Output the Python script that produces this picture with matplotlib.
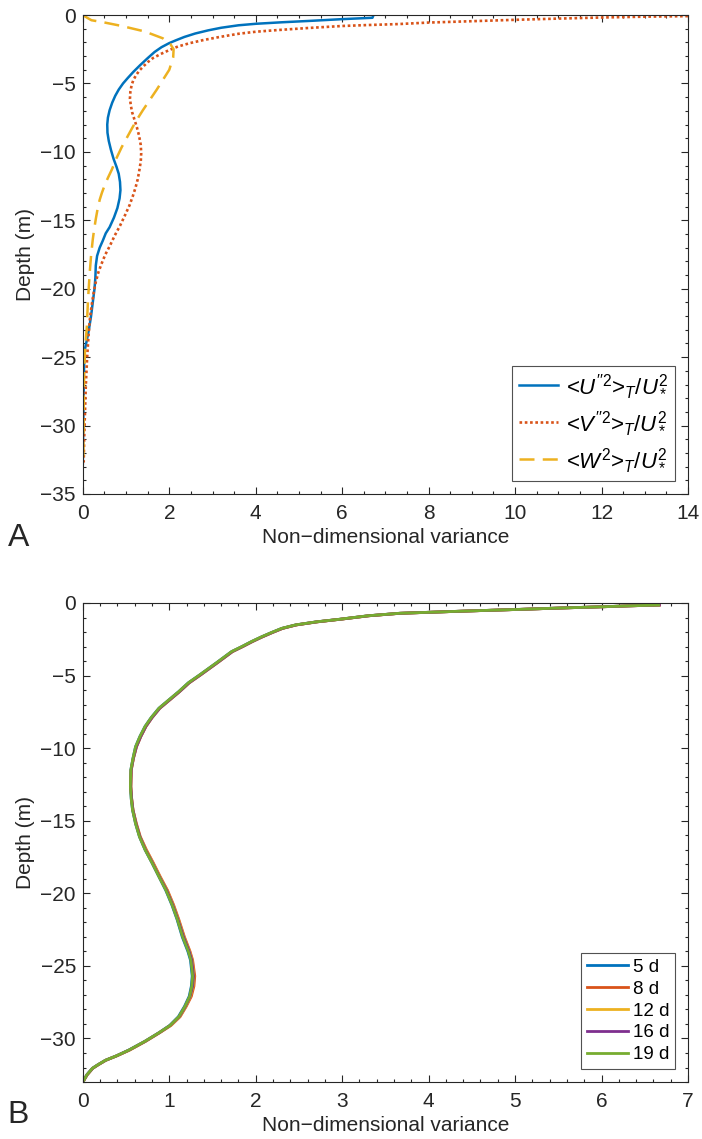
import matplotlib
matplotlib.use("Agg")
import matplotlib.pyplot as plt
from matplotlib.ticker import MultipleLocator

plt.rcParams["font.family"] = ["Liberation Sans", "DejaVu Sans"]
plt.rcParams["mathtext.fontset"] = "custom"
plt.rcParams["mathtext.rm"] = "Liberation Sans"
plt.rcParams["mathtext.it"] = "Liberation Sans:italic"
plt.rcParams["axes.unicode_minus"] = True

INK = "#262626"

# --- panel A: variance profiles (x = variance, depth in m) ---
u_var = [6.72, 6.70, 6.00, 5.30, 4.60, 4.00, 3.60, 3.20, 2.90, 2.60, 2.35, 2.15, 2.00,
         1.82, 1.66, 1.50, 1.33, 1.17, 1.04, 0.93, 0.83, 0.75, 0.68, 0.62, 0.58, 0.565,
         0.57, 0.60, 0.65, 0.71, 0.78, 0.83, 0.86, 0.87, 0.85, 0.80, 0.72, 0.62, 0.53,
         0.46, 0.39, 0.33, 0.30, 0.29, 0.27, 0.23, 0.19, 0.14, 0.09, 0.05, 0.03, 0.02,
         0.01, 0.00]
u_depth = [-0.05, -0.20, -0.30, -0.42, -0.53, -0.64, -0.75, -0.93, -1.12, -1.35, -1.60,
           -1.85, -2.05, -2.35, -2.70, -3.15, -3.65, -4.15, -4.60, -5.00, -5.45, -5.90,
           -6.40, -6.95, -7.50, -8.00, -8.60, -9.20, -9.85, -10.50, -11.10, -11.60,
           -12.20, -12.80, -13.40, -14.10, -14.80, -15.50, -15.95, -16.50, -17.00,
           -17.60, -18.30, -19.20, -20.00, -21.00, -22.00, -23.00, -23.80, -24.40,
           -25.50, -27.00, -30.00, -32.80]

v_var = [14.0, 13.0, 12.0, 11.0, 10.0, 9.0, 8.0, 7.3, 6.6, 6.0, 5.2, 4.5, 4.0, 3.6, 3.17,
         2.8, 2.48, 2.2, 2.0, 1.8, 1.62, 1.5, 1.4, 1.31, 1.23, 1.17, 1.13, 1.10, 1.09,
         1.11, 1.14, 1.19, 1.25, 1.30, 1.34, 1.35, 1.34, 1.31, 1.27, 1.22, 1.16, 1.08,
         0.98, 0.86, 0.74, 0.62, 0.52, 0.43, 0.36, 0.30, 0.25, 0.20, 0.16, 0.13, 0.10,
         0.07, 0.05, 0.03, 0.02]
v_depth = [-0.08, -0.12, -0.18, -0.26, -0.35, -0.45, -0.55, -0.66, -0.73, -0.80, -0.95,
           -1.10, -1.22, -1.37, -1.60, -1.82, -2.05, -2.30, -2.56, -2.85, -3.15, -3.45,
           -3.75, -4.05, -4.40, -4.75, -5.10, -5.60, -6.10, -6.60, -7.10, -7.60, -8.20,
           -8.80, -9.50, -10.10, -10.70, -11.30, -12.00, -12.60, -13.20, -13.90, -14.60,
           -15.40, -16.10, -16.90, -17.50, -18.20, -18.80, -19.50, -20.30, -21.30,
           -22.30, -23.50, -25.00, -27.00, -29.00, -31.00, -32.70]

w_var = [0.0, 0.10, 0.20, 0.46, 0.90, 1.43, 1.85, 2.02, 2.10, 2.09, 2.00, 1.86, 1.71,
         1.55, 1.39, 1.27, 1.16, 1.03, 0.90, 0.78, 0.67, 0.58, 0.51, 0.44, 0.39, 0.34,
         0.30, 0.26, 0.23, 0.19, 0.16, 0.12, 0.09, 0.05, 0.03, 0.02, 0.01]
w_depth = [0.0, -0.20, -0.38, -0.52, -0.80, -1.20, -1.70, -2.10, -2.50, -3.10, -4.00,
           -4.70, -5.45, -6.20, -6.95, -7.55, -8.15, -8.90, -9.65, -10.45, -11.30,
           -11.90, -12.40, -13.00, -13.50, -14.20, -14.90, -15.70, -16.40, -17.60,
           -18.80, -20.80, -22.90, -24.50, -26.10, -29.00, -32.70]

# --- panel B: <U'^2>/U*^2 after different run lengths ---
b_depth = [-0.14, -0.20, -0.25, -0.35, -0.44, -0.56, -0.71, -0.88, -1.12, -1.30, -1.51,
           -1.75, -2.04, -2.35, -2.66, -3.00, -3.35, -4.10, -4.96, -5.50, -6.10, -6.70,
           -7.25, -7.90, -8.50, -9.20, -9.90, -10.70, -11.50, -12.65, -13.50, -14.26,
           -15.20, -16.10, -17.00, -17.90, -18.85, -19.80, -20.80, -21.80, -23.00,
           -24.00, -24.60, -25.70, -26.40, -27.10, -27.80, -28.50, -29.10, -29.60,
           -30.20, -30.80, -31.20, -31.50, -31.80, -32.05, -32.50, -33.00]
b_5d = [6.66, 6.30, 6.06, 5.50, 5.05, 4.40, 3.66, 3.30, 2.97, 2.70, 2.46, 2.30, 2.18,
        2.06, 1.95, 1.84, 1.72, 1.55, 1.35, 1.22, 1.11, 0.99, 0.88, 0.79, 0.72, 0.66,
        0.61, 0.58, 0.555, 0.55, 0.56, 0.575, 0.61, 0.655, 0.72, 0.80, 0.88, 0.96, 1.03,
        1.09, 1.15, 1.215, 1.245, 1.265, 1.255, 1.23, 1.175, 1.105, 1.005, 0.88, 0.715,
        0.53, 0.385, 0.26, 0.175, 0.11, 0.045, 0.0]
b_8d = [6.67, 6.31, 6.07, 5.51, 5.06, 4.41, 3.67, 3.31, 2.98, 2.71, 2.47, 2.31, 2.19,
        2.07, 1.96, 1.85, 1.73, 1.56, 1.36, 1.23, 1.12, 1.00, 0.89, 0.80, 0.73, 0.67,
        0.62, 0.585, 0.56, 0.555, 0.565, 0.58, 0.62, 0.665, 0.735, 0.815, 0.895, 0.98,
        1.05, 1.11, 1.175, 1.24, 1.27, 1.295, 1.285, 1.255, 1.195, 1.125, 1.02, 0.89,
        0.725, 0.54, 0.39, 0.265, 0.18, 0.115, 0.05, 0.0]
b_12d = [6.67, 6.31, 6.07, 5.51, 5.06, 4.41, 3.67, 3.31, 2.98, 2.71, 2.47, 2.31, 2.19,
         2.07, 1.96, 1.85, 1.73, 1.56, 1.36, 1.23, 1.12, 1.00, 0.89, 0.80, 0.73, 0.67,
         0.62, 0.585, 0.56, 0.555, 0.565, 0.58, 0.615, 0.66, 0.73, 0.81, 0.89, 0.975,
         1.045, 1.105, 1.17, 1.235, 1.265, 1.285, 1.275, 1.245, 1.19, 1.12, 1.015, 0.885,
         0.72, 0.54, 0.39, 0.265, 0.18, 0.115, 0.05, 0.0]
b_16d = [6.67, 6.31, 6.07, 5.51, 5.06, 4.41, 3.67, 3.31, 2.98, 2.71, 2.47, 2.31, 2.19,
         2.07, 1.96, 1.85, 1.73, 1.56, 1.36, 1.23, 1.12, 1.00, 0.89, 0.80, 0.73, 0.67,
         0.62, 0.585, 0.56, 0.555, 0.565, 0.58, 0.615, 0.66, 0.725, 0.805, 0.885, 0.97,
         1.04, 1.10, 1.165, 1.23, 1.26, 1.28, 1.27, 1.24, 1.185, 1.115, 1.01, 0.885,
         0.72, 0.535, 0.39, 0.265, 0.18, 0.115, 0.05, 0.0]
b_19d = [6.66, 6.30, 6.06, 5.50, 5.05, 4.40, 3.66, 3.30, 2.97, 2.70, 2.46, 2.30, 2.18,
         2.06, 1.95, 1.84, 1.72, 1.55, 1.35, 1.22, 1.11, 0.99, 0.88, 0.79, 0.72, 0.66,
         0.61, 0.58, 0.555, 0.55, 0.56, 0.575, 0.61, 0.655, 0.72, 0.80, 0.88, 0.962,
         1.033, 1.093, 1.155, 1.22, 1.25, 1.27, 1.26, 1.235, 1.18, 1.11, 1.008, 0.882,
         0.717, 0.532, 0.387, 0.262, 0.177, 0.112, 0.047, 0.0]
run_labels = ["5 d", "8 d", "12 d", "16 d", "19 d"]
run_colors = ["#0072BD", "#D95319", "#EDB120", "#7E2F8E", "#77AC30"]


def style_axes(ax, xmax, xmajor, xminor, ymin):
    ax.set_xlim(0, xmax)
    ax.set_ylim(ymin, 0)
    ax.xaxis.set_major_locator(MultipleLocator(xmajor))
    ax.xaxis.set_minor_locator(MultipleLocator(xminor))
    ax.yaxis.set_major_locator(MultipleLocator(5))
    ax.yaxis.set_minor_locator(MultipleLocator(1))
    ax.tick_params(which="both", direction="in", top=True, right=True,
                   colors=INK, labelsize=15, width=0.8)
    ax.tick_params(which="major", length=5)
    ax.tick_params(which="minor", length=2.5)
    ax.tick_params(axis="x", which="major", pad=7)
    ax.tick_params(axis="y", which="major", pad=5)
    for sp in ax.spines.values():
        sp.set_color(INK)
        sp.set_linewidth(0.8)
    ax.set_xlabel("Non\u2212dimensional variance", fontsize=15, color=INK, labelpad=4)
    ax.set_ylabel("Depth (m)", fontsize=15, color=INK, labelpad=4)


fig = plt.figure(figsize=(7.02, 11.39), dpi=100)
ax1 = fig.add_axes([0.118, 0.5663, 0.862, 0.4205])
ax2 = fig.add_axes([0.118, 0.0500, 0.862, 0.4206])

ax1.plot(u_var, u_depth, color="#0072BD", lw=1.8,
         label=r"<$U^{\prime\prime 2}$>$_T/U_*^2$")
ax1.plot(v_var, v_depth, color="#D95319", lw=1.9, linestyle=(0, (1, 1)),
         label=r"<$V^{\prime\prime 2}$>$_T/U_*^2$")
ax1.plot(w_var, w_depth, color="#EDB120", lw=1.8, linestyle=(0, (6, 3.3)),
         label=r"<$W^2$>$_T/U_*^2$")
style_axes(ax1, 14, 2, 0.5, -35)
leg1 = ax1.legend(loc="lower right", fontsize=16, frameon=True, fancybox=False,
                  edgecolor=INK, borderaxespad=0.6, handlelength=1.75,
                  labelspacing=0.45, borderpad=0.3, handletextpad=0.35)
leg1.get_frame().set_linewidth(0.8)

for xs, lab, col in zip([b_5d, b_8d, b_12d, b_16d, b_19d], run_labels, run_colors):
    ax2.plot(xs, b_depth, color=col, lw=2.0, label=lab)
style_axes(ax2, 7, 1, 0.2, -33)
leg2 = ax2.legend(loc="lower right", fontsize=13.5, frameon=True, fancybox=False,
                  edgecolor=INK, borderaxespad=0.7, handlelength=2.2,
                  labelspacing=0.25, borderpad=0.3, handletextpad=0.25)
leg2.get_frame().set_linewidth(0.8)

fig.text(0.011, 0.5277, "A", fontsize=23, color=INK, va="center", ha="left")
fig.text(0.011, 0.0210, "B", fontsize=23, color=INK, va="center", ha="left")

fig.savefig("out.png", dpi=100)
